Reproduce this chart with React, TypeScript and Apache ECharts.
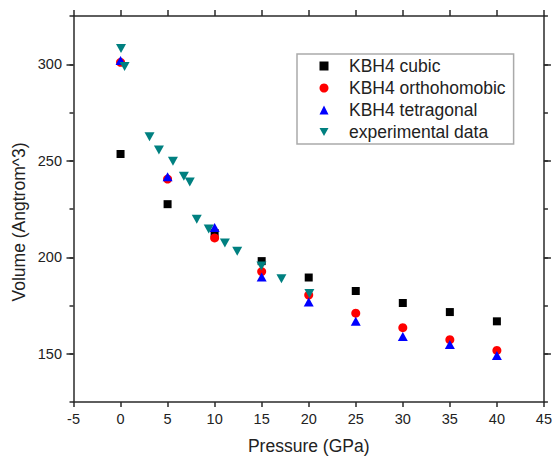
import React, { useEffect, useRef } from "react";
import * as echarts from "echarts";

const pressures = [0, 5, 10, 15, 20, 25, 30, 35, 40];
const cubicVolumes = [253.5, 227.5, 212.5, 198, 189.5, 182.5, 176.3, 171.6, 166.8];
const orthoVolumes = [301, 240.5, 210, 192.6, 180.4, 171, 163.5, 157.3, 151.7];
const tetraVolumes = [302, 241.7, 215.4, 189.8, 176.8, 166.9, 159, 154.8, 149.1];
const expPressures = [0.05, 0.43, 3.08, 4.08, 5.57, 6.73, 7.36, 8.1, 9.37, 11.09, 12.4, 14.97, 17.1, 20.07];
const expVolumes = [308.2, 298.8, 262.5, 255.6, 249.8, 242, 239, 219.7, 214.7, 207.4, 203.1, 195.5, 188.9, 181.2];
const yMajorTicks = [150, 200, 250, 300];

const FONT = "'Liberation Sans', Arial, sans-serif";
const AXIS_COLOR = "#2a2a2a";
const TEXT_COLOR = "#222";
const DOWN_TRIANGLE = "path://M0,0L10,0L5,9Z";

export default function App() {
  const ref = useRef<HTMLDivElement>(null);
  useEffect(() => {
    document.body.style.margin = "0";
    if (!ref.current) return;
    const chart = echarts.init(ref.current, undefined, { renderer: "svg" });
    const lineStyle = { color: AXIS_COLOR, width: 1.5 };
    const zip = (xs: number[], ys: number[]) => xs.map((x, i) => [x, ys[i]]);
    const xBase = {
      type: "value" as const,
      min: -5,
      max: 45,
      interval: 5,
      splitLine: { show: false },
      axisLine: { show: true, onZero: false, lineStyle },
    };
    const yBase = {
      type: "value" as const,
      min: 125,
      max: 325,
      interval: 25,
      splitLine: { show: false },
    };
    chart.setOption({
      animation: false,
      backgroundColor: "#fff",
      textStyle: { fontFamily: FONT },
      grid: { left: 73.5, right: 6, top: 16, bottom: 60 },
      xAxis: [
        {
          ...xBase,
          position: "bottom",
          name: "Pressure (GPa)",
          nameLocation: "middle",
          nameGap: 34.5,
          nameTextStyle: { fontSize: 17.5, color: TEXT_COLOR, fontFamily: FONT },
          axisTick: { show: true, length: 5, lineStyle },
          axisLabel: { fontSize: 14.5, color: TEXT_COLOR, margin: 9, fontFamily: FONT },
        },
        {
          ...xBase,
          position: "top",
          axisTick: { show: true, length: 6, lineStyle },
          axisLabel: { show: false },
        },
      ],
      yAxis: [
        {
          ...yBase,
          position: "left",
          axisLine: { show: true, onZero: false, lineStyle },
          axisTick: { show: true, length: 4, lineStyle },
          axisLabel: {
            customValues: yMajorTicks,
            fontSize: 14.5,
            color: TEXT_COLOR,
            margin: 11.5,
            fontFamily: FONT,
          },
        },
        {
          ...yBase,
          position: "left",
          axisLine: { show: false, onZero: false },
          axisTick: { show: true, length: 7, lineStyle, customValues: yMajorTicks },
          axisLabel: { show: false },
        },
        {
          ...yBase,
          position: "right",
          axisLine: { show: true, onZero: false, lineStyle },
          axisTick: { show: true, length: 4, lineStyle },
          axisLabel: { show: false },
        },
        {
          ...yBase,
          position: "right",
          axisLine: { show: false, onZero: false },
          axisTick: { show: true, length: 7, lineStyle, customValues: yMajorTicks },
          axisLabel: { show: false },
        },
      ],
      legend: {
        left: 297,
        top: 54,
        orient: "vertical",
        itemWidth: 9,
        itemHeight: 9,
        itemGap: 0,
        padding: [1, 8, 1, 22.5],
        borderColor: "#aaa",
        borderWidth: 1.5,
        backgroundColor: "#fff",
        textStyle: {
          fontSize: 17.5,
          color: TEXT_COLOR,
          fontFamily: FONT,
          lineHeight: 22,
          padding: [0, 0, 0, 15.5],
        },
        data: [
          { name: "KBH4 cubic" },
          { name: "KBH4 orthohomobic" },
          { name: "KBH4 tetragonal" },
          { name: "experimental data", icon: DOWN_TRIANGLE },
        ],
      },
      graphic: [
        {
          type: "text",
          x: 19,
          y: 222,
          rotation: Math.PI / 2,
          style: {
            text: "Volume (Angtrom^3)",
            fontSize: 17.5,
            fill: TEXT_COLOR,
            fontFamily: FONT,
            align: "center",
            verticalAlign: "middle",
          },
        },
      ],
      series: [
        {
          name: "KBH4 cubic",
          type: "scatter",
          symbol: "rect",
          symbolSize: 8,
          itemStyle: { color: "#000", opacity: 1 },
          data: zip(pressures, cubicVolumes),
        },
        {
          name: "KBH4 orthohomobic",
          type: "scatter",
          symbol: "circle",
          symbolSize: 9,
          itemStyle: { color: "#ff0000", opacity: 1 },
          data: zip(pressures, orthoVolumes),
        },
        {
          name: "KBH4 tetragonal",
          type: "scatter",
          symbol: "triangle",
          symbolSize: [10, 9],
          itemStyle: { color: "#0000ff", opacity: 1 },
          data: zip(pressures, tetraVolumes),
        },
        {
          name: "experimental data",
          type: "scatter",
          symbol: DOWN_TRIANGLE,
          symbolSize: [10, 9],
          itemStyle: { color: "#008080", opacity: 1 },
          data: zip(expPressures, expVolumes),
        },
      ],
    });
    return () => chart.dispose();
  }, []);
  return <div ref={ref} style={{ width: 555, height: 462 }} />;
}
